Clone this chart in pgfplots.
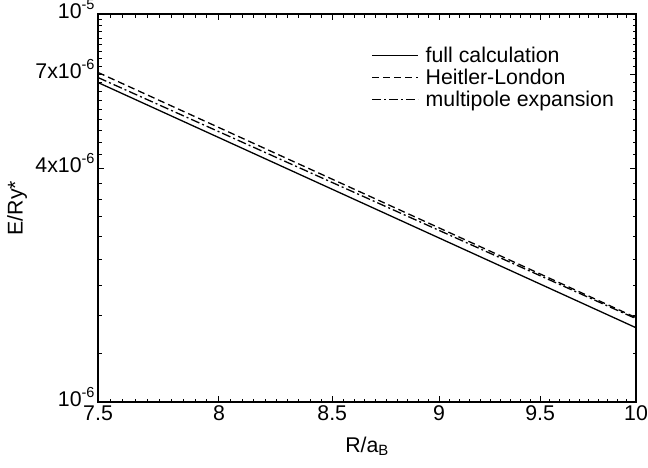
\documentclass[border=0pt]{standalone}
\usepackage{pgfplots}
\pgfplotsset{compat=1.18}
\usepackage{fontspec}
\setmainfont{Liberation Sans}
\newcommand{\sups}[1]{\raisebox{0.42em}{\fontsize{14.5}{15}\selectfont #1}}
\begin{document}
\begin{tikzpicture}[font=\fontsize{21.3}{25}\selectfont]
\begin{axis}[
  scale only axis,
  width=538pt, height=388pt,
  xmode=log, ymode=log,
  xmin=7.5, xmax=10, ymin=1e-6, ymax=1e-5,
  axis line style={line width=1.3pt},
  every tick/.style={line width=1pt, black},
  major tick length=6pt, minor tick length=3.5pt,
  xtick={7.5,8,8.5,9,9.5,10},
  xticklabels={7.5,8,8.5,9,9.5,10},
  minor xtick={7.55,7.6,7.65,7.7,7.75,7.8,7.85,7.9,7.95,
               8.05,8.1,8.15,8.2,8.25,8.3,8.35,8.4,8.45,
               8.55,8.6,8.65,8.7,8.75,8.8,8.85,8.9,8.95,
               9.05,9.1,9.15,9.2,9.25,9.3,9.35,9.4,9.45,
               9.55,9.6,9.65,9.7,9.75,9.8,9.85,9.9,9.95},
  ytick={1e-6,4e-6,7e-6,1e-5},
  yticklabels={10\sups{-6},4x10\sups{-6},7x10\sups{-6},10\sups{-5}},
  minor ytick={1.33333e-6,1.66667e-6,2e-6,2.33333e-6,2.66667e-6,3e-6,3.33333e-6,3.66667e-6,
               4.33333e-6,4.66667e-6,5e-6,5.33333e-6,5.66667e-6,6e-6,6.33333e-6,6.66667e-6,
               7.33333e-6,7.66667e-6,8e-6,8.33333e-6,8.66667e-6,9e-6,9.33333e-6,9.66667e-6},
  tick label style={font=\fontsize{21.3}{25}\selectfont},
  yticklabel style={anchor=base east, yshift=-0.42em},
  xlabel={R/a\textsubscript{B}},
  ylabel={E/Ry*},
  xlabel style={at={(axis description cs:0.5,0)}, anchor=center, yshift=-44pt},
  ylabel style={at={(axis description cs:-0.1506,0.5)}, anchor=center},
  legend style={draw=none, fill=none, at={(rel axis cs:0.504,0.925)}, anchor=north west,
    font=\fontsize{21.3}{25}\selectfont, row sep=1pt, inner sep=2pt},
  legend cell align=left,
  legend image code/.code={\draw[#1] (0pt,0pt) -- (46pt,0pt); \path (51pt,0pt);},
]
\addplot[black, line width=1.3pt] coordinates {(7.5,6.66e-6) (10,1.554e-6)};
\addlegendentry{full calculation}
\addplot[black, line width=1.3pt, dash pattern=on 7pt off 4pt] coordinates {(7.5,7.07e-6) (10,1.65e-6)};
\addlegendentry{Heitler-London}
\addplot[black, line width=1.3pt, dash pattern=on 9pt off 3pt on 2pt off 3pt] coordinates {(7.5,6.86e-6) (10,1.64e-6)};
\addlegendentry{multipole expansion}
\end{axis}
\pgfresetboundingbox
\path[use as bounding box] ([xshift=-98pt,yshift=-65pt]current axis.south west) rectangle ([xshift=12pt,yshift=14pt]current axis.north east);
\end{tikzpicture}
\end{document}
